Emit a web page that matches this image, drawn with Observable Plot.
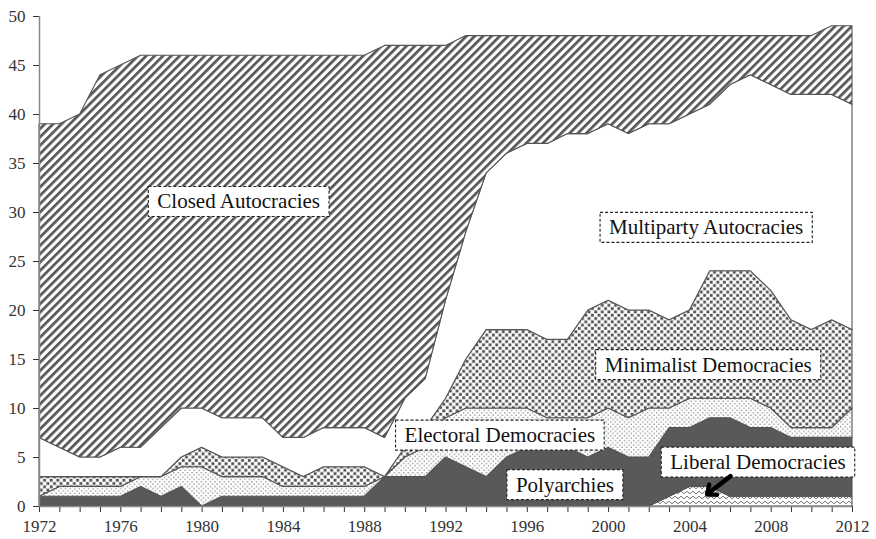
<!DOCTYPE html>
<html><head><meta charset="utf-8">
<script src="https://cdn.jsdelivr.net/npm/d3@7"></script>
<script src="https://cdn.jsdelivr.net/npm/@observablehq/plot@0.6"></script>
<style>
body{margin:0;background:#fff}
#chart{width:876px;height:539px}
</style>
</head><body><div id="chart"></div>
<script>
const years = [1972,1973,1974,1975,1976,1977,1978,1979,1980,1981,1982,1983,1984,1985,1986,1987,1988,1989,1990,1991,1992,1993,1994,1995,1996,1997,1998,1999,2000,2001,2002,2003,2004,2005,2006,2007,2008,2009,2010,2011,2012];
const liberalDemocracies   = [0,0,0,0,0,0,0,0,0,0,0,0,0,0,0,0,0,0,0,0,0,0,0,0,0,0,0,0,0,0,0,1,2,2,1,1,1,1,1,1,1];
const polyarchies          = [1,1,1,1,1,2,1,2,0,1,1,1,1,1,1,1,1,3,3,3,5,4,3,5,6,6,6,5,6,5,5,7,6,7,8,7,7,6,6,6,6];
const electoralDemocracies = [0,1,1,1,1,1,2,2,4,2,2,2,1,1,1,1,1,0,2,3,4,6,7,5,4,3,3,4,4,4,5,2,3,2,2,3,2,1,1,1,3];
const minimalistDemocracies= [2,1,1,1,1,0,0,1,2,2,2,2,2,1,2,2,2,0,1,2,2,5,8,8,8,8,8,11,11,11,10,9,9,13,13,13,12,11,10,11,8];
const multipartyAutocracies= [4,3,2,2,3,3,5,5,4,4,4,4,3,4,4,4,4,4,5,5,10,13,16,18,19,20,21,18,18,18,19,20,20,17,19,20,21,23,24,23,23];
const closedAutocracies    = [32,33,35,39,39,40,38,36,36,37,37,37,39,39,38,38,38,40,36,34,26,20,14,12,11,11,10,10,9,10,9,9,8,7,5,4,5,6,6,7,8];

const labelNames = ["Closed Autocracies","Multiparty Autocracies","Minimalist Democracies","Electoral Democracies","Polyarchies","Liberal Democracies"];
const labelX = [1981.8, 2004.8, 2004.9, 1994.65, 1997.85, 2007.35];
const labelY = [31.1, 28.45, 14.45, 7.25, 2.2, 4.5];
const arrowFrom = {year: 2006.0, value: 3.1};
const arrowTo = {year: 2004.85, value: 1.25};
const yTicks = [0,5,10,15,20,25,30,35,40,45,50];

const series = [
  {key:"Liberal Democracies", values: liberalDemocracies, fill:"url(#pLib)"},
  {key:"Polyarchies", values: polyarchies, fill:"#595959"},
  {key:"Electoral Democracies", values: electoralDemocracies, fill:"url(#pElec)"},
  {key:"Minimalist Democracies", values: minimalistDemocracies, fill:"url(#pMin)"},
  {key:"Multiparty Autocracies", values: multipartyAutocracies, fill:"#ffffff"},
  {key:"Closed Autocracies", values: closedAutocracies, fill:"url(#pClosed)"}
];
const base = years.map(() => 0);
const tables = series.map(s => {
  const rows = years.map((yr, i) => ({year: yr, y1: base[i], y2: base[i] + s.values[i]}));
  years.forEach((yr, i) => base[i] += s.values[i]);
  return rows;
});
const labels = labelNames.map((t, i) => ({text: t, x: labelX[i], y: labelY[i]}));

const plot = Plot.plot({
  width: 876, height: 539,
  marginLeft: 39, marginRight: 24, marginTop: 16, marginBottom: 33,
  style: {fontFamily: "'Liberation Serif', 'Times New Roman', serif", fontSize: "17px", color: "#333", background: "#fff"},
  x: {domain: [1972, 2012], ticks: years, tickFormat: d => d % 4 === 0 ? String(d) : "", tickSize: 6, tickPadding: 7, label: null},
  y: {domain: [0, 50], ticks: yTicks, tickSize: 6, tickPadding: 8, label: null},
  marks: [
    ...series.map((s, k) => Plot.areaY(tables[k], {x: "year", y1: "y1", y2: "y2", fill: s.fill, stroke: "#555", strokeWidth: 1.1})),
    Plot.ruleX([1972], {stroke: "#888", strokeWidth: 1.5}),
    Plot.ruleY([0], {stroke: "#888", strokeWidth: 1.5}),
    Plot.text(labels, {x: "x", y: "y", text: "text", fontSize: 21, fill: "#111", fontFamily: "'Liberation Serif', 'Times New Roman', serif"}),
    Plot.arrow([arrowFrom], {x1: "year", y1: "value", x2: () => arrowTo.year, y2: () => arrowTo.value, stroke: "#000", strokeWidth: 4.5, headLength: 12, headAngle: 80})
  ]
});
document.getElementById("chart").appendChild(plot);

// pattern definitions
const ns = "http://www.w3.org/2000/svg";
const defs = document.createElementNS(ns, "defs");
defs.innerHTML = `
<pattern id="pClosed" patternUnits="userSpaceOnUse" width="5.9" height="10" patternTransform="rotate(45)">
  <rect width="5.9" height="10" fill="#fff"/>
  <rect x="0" width="2.7" height="10" fill="#555"/>
</pattern>
<pattern id="pMin" patternUnits="userSpaceOnUse" width="6.6" height="6.6">
  <rect width="6.6" height="6.6" fill="#fff"/>
  <rect x="0.3" y="0.3" width="2.8" height="2.8" fill="#4d4d4d"/>
  <rect x="3.6" y="3.6" width="2.8" height="2.8" fill="#4d4d4d"/>
</pattern>
<pattern id="pElec" patternUnits="userSpaceOnUse" width="4.6" height="4.6">
  <rect width="4.6" height="4.6" fill="#fff"/>
  <rect x="0.5" y="0.5" width="1.3" height="1.3" fill="#888"/>
  <rect x="2.8" y="2.8" width="1.3" height="1.3" fill="#888"/>
</pattern>
<pattern id="pLib" patternUnits="userSpaceOnUse" width="6" height="5">
  <rect width="6" height="5" fill="#fff"/>
  <path d="M0,3.8 L3,1.2 L6,3.8" fill="none" stroke="#666" stroke-width="0.9"/>
</pattern>`;
plot.insertBefore(defs, plot.firstChild);

// dashed label boxes
plot.querySelectorAll('g[aria-label="text"] text').forEach(t => {
  const bb = t.getBBox();
  const cy = bb.y + bb.height / 2;
  const r = document.createElementNS(ns, "rect");
  r.setAttribute("x", bb.x - 9);
  r.setAttribute("y", cy - 15);
  r.setAttribute("width", bb.width + 18);
  r.setAttribute("height", 30);
  r.setAttribute("fill", "#fff");
  r.setAttribute("stroke", "#222");
  r.setAttribute("stroke-width", "1.1");
  r.setAttribute("stroke-dasharray", "3,2");
  const tr = t.getAttribute("transform");
  if (tr) r.setAttribute("transform", tr);
  t.parentNode.insertBefore(r, t);
});
</script>
</body></html>
